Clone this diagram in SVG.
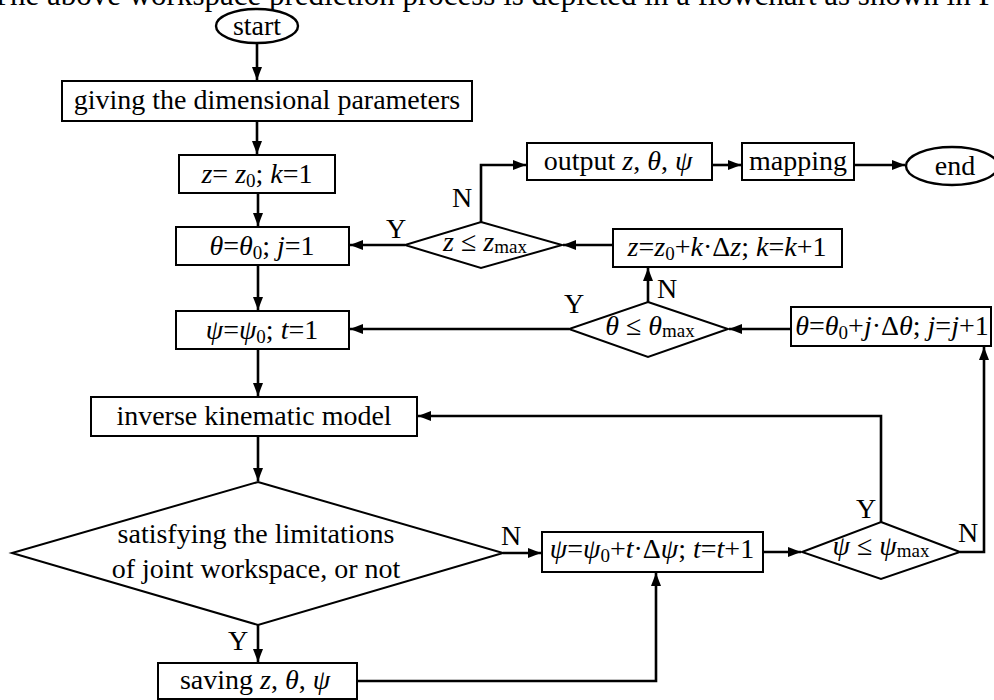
<svg xmlns="http://www.w3.org/2000/svg" width="994" height="700" viewBox="0 0 994 700">
<defs>
<style>
text{font-family:"Liberation Serif","Times New Roman",serif;font-size:28px;fill:#000;text-anchor:middle}
.i{font-style:italic}
.s{font-size:19px;font-style:normal}
.box{fill:#fff;stroke:#000;stroke-width:2}
.con{fill:none;stroke:#000;stroke-width:2.6}
</style>
<marker id="ah" markerUnits="userSpaceOnUse" markerWidth="14" markerHeight="12" refX="13" refY="5" orient="auto">
<path d="M0,0 L13,5 L0,10 z" fill="#000"/>
</marker>
</defs>
<rect width="994" height="700" fill="#fff"/>
<text x="-9" y="5" style="text-anchor:start;font-size:31px">The above workspace prediction process is depicted in a flowchart as shown in F</text>

<g id="connectors">
<path class="con" d="M257,43 V80" marker-end="url(#ah)"/>
<path class="con" d="M257,121 V154" marker-end="url(#ah)"/>
<path class="con" d="M258,193 V226" marker-end="url(#ah)"/>
<path class="con" d="M258,265 V310" marker-end="url(#ah)"/>
<path class="con" d="M258,349 V396" marker-end="url(#ah)"/>
<path class="con" d="M258,436 V481" marker-end="url(#ah)"/>
<path class="con" d="M258,625 V662" marker-end="url(#ah)"/>
<path class="con" d="M503,553 H541" marker-end="url(#ah)"/>
<path class="con" d="M357,681 H656 V573" marker-end="url(#ah)"/>
<path class="con" d="M763,552 H801" marker-end="url(#ah)"/>
<path class="con" d="M881,522 V416 H418" marker-end="url(#ah)"/>
<path class="con" d="M960,552 H984 V347" marker-end="url(#ah)"/>
<path class="con" d="M791,329 H729" marker-end="url(#ah)"/>
<path class="con" d="M569,329 H350" marker-end="url(#ah)"/>
<path class="con" d="M648,302 V268" marker-end="url(#ah)"/>
<path class="con" d="M613,245 H563" marker-end="url(#ah)"/>
<path class="con" d="M405,245 H350" marker-end="url(#ah)"/>
<path class="con" d="M481,222 V165 H526" marker-end="url(#ah)"/>
<path class="con" d="M712,165 H741" marker-end="url(#ah)"/>
<path class="con" d="M854,165 H905" marker-end="url(#ah)"/>
<text x="396" y="238">Y</text>
<text x="462" y="207">N</text>
<text x="574" y="313">Y</text>
<text x="667" y="298">N</text>
<text x="866" y="518">Y</text>
<text x="968" y="542">N</text>
<text x="511" y="545">N</text>
<text x="238" y="650">Y</text>
</g>

<g id="start">
<ellipse cx="257" cy="26" rx="41" ry="17" fill="#fff" stroke="#000" stroke-width="2.4"/>
<text x="257" y="35">start</text>
</g>
<g id="params">
<rect class="box" x="62" y="81" width="410" height="40"/>
<text x="267" y="109">giving the dimensional parameters</text>
</g>
<g id="z-init">
<rect class="box" x="179" y="155" width="156" height="38"/>
<text x="257" y="183"><tspan class="i">z</tspan>= <tspan class="i">z</tspan><tspan class="s" dy="4">0</tspan><tspan dy="-4">; </tspan><tspan class="i">k</tspan>=1</text>
</g>
<g id="theta-init">
<rect class="box" x="176" y="227" width="173" height="38"/>
<text x="262" y="255"><tspan class="i">θ</tspan>=<tspan class="i">θ</tspan><tspan class="s" dy="4">0</tspan><tspan dy="-4">; </tspan><tspan class="i">j</tspan>=1</text>
</g>
<g id="psi-init">
<rect class="box" x="176" y="311" width="173" height="38"/>
<text x="262" y="339"><tspan class="i">ψ</tspan>=<tspan class="i">ψ</tspan><tspan class="s" dy="4">0</tspan><tspan dy="-4">; </tspan><tspan class="i">t</tspan>=1</text>
</g>
<g id="ik-model">
<rect class="box" x="91" y="397" width="326" height="39"/>
<text x="254" y="425">inverse kinematic model</text>
</g>
<g id="limit-check">
<polygon class="box" points="258,482 503,553 258,625 12,553"/>
<text x="256" y="543">satisfying the limitations</text>
<text x="256" y="578">of joint workspace, or not</text>
</g>
<g id="saving">
<rect class="box" x="158" y="663" width="199" height="36"/>
<text x="255" y="689">saving <tspan class="i">z</tspan>, <tspan class="i">θ</tspan>, <tspan class="i">ψ</tspan></text>
</g>
<g id="psi-inc">
<rect class="box" x="542" y="532" width="221" height="40"/>
<text x="652" y="558"><tspan class="i">ψ</tspan>=<tspan class="i">ψ</tspan><tspan class="s" dy="4">0</tspan><tspan dy="-4">+</tspan><tspan class="i">t</tspan>·Δ<tspan class="i">ψ</tspan>; <tspan class="i">t</tspan>=<tspan class="i">t</tspan>+1</text>
</g>
<g id="psi-check">
<polygon class="box" points="881,522 960,552 881,579 802,552"/>
<text x="881" y="555"><tspan class="i">ψ</tspan> ≤ <tspan class="i">ψ</tspan><tspan class="s" dy="2">max</tspan></text>
</g>
<g id="theta-inc">
<rect class="box" x="791" y="307" width="200" height="39"/>
<text x="892" y="335"><tspan class="i">θ</tspan>=<tspan class="i">θ</tspan><tspan class="s" dy="4">0</tspan><tspan dy="-4">+</tspan><tspan class="i">j</tspan>·Δ<tspan class="i">θ</tspan>; <tspan class="i">j</tspan>=<tspan class="i">j</tspan>+1</text>
</g>
<g id="theta-check">
<polygon class="box" points="648,302 728,329 648,357 569,329"/>
<text x="650" y="335"><tspan class="i">θ</tspan> ≤ <tspan class="i">θ</tspan><tspan class="s" dy="2">max</tspan></text>
</g>
<g id="z-inc">
<rect class="box" x="613" y="229" width="229" height="38"/>
<text x="727" y="256"><tspan class="i">z</tspan>=<tspan class="i">z</tspan><tspan class="s" dy="4">0</tspan><tspan dy="-4">+</tspan><tspan class="i">k</tspan>·Δ<tspan class="i">z</tspan>; <tspan class="i">k</tspan>=<tspan class="i">k</tspan>+1</text>
</g>
<g id="z-check">
<polygon class="box" points="481,222 562,245 481,268 405,245"/>
<text x="485" y="251"><tspan class="i">z</tspan> ≤ <tspan class="i">z</tspan><tspan class="s" dy="2">max</tspan></text>
</g>
<g id="output">
<rect class="box" x="527" y="143" width="185" height="37"/>
<text x="618" y="170">output <tspan class="i">z</tspan>, <tspan class="i">θ</tspan>, <tspan class="i">ψ</tspan></text>
</g>
<g id="mapping">
<rect class="box" x="742" y="143" width="112" height="37"/>
<text x="798" y="170">mapping</text>
</g>
<g id="end">
<ellipse cx="952" cy="166" rx="46" ry="19" fill="#fff" stroke="#000" stroke-width="2.4"/>
<text x="955" y="175">end</text>
</g>
</svg>
